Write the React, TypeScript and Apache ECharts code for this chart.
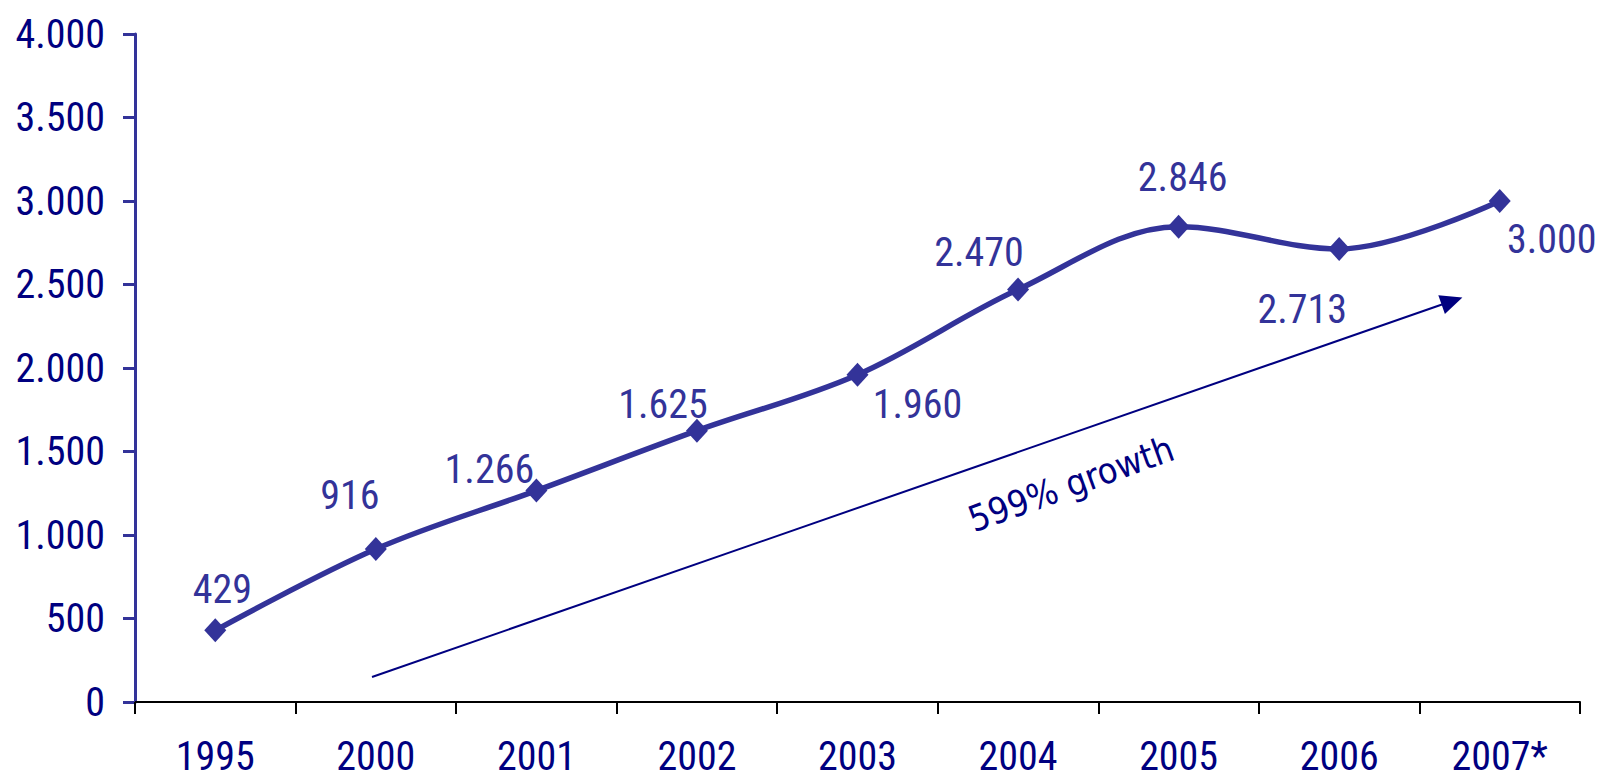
import React, { useEffect, useRef } from "react";
import * as echarts from "echarts";

const categories = ["1995", "2000", "2001", "2002", "2003", "2004", "2005", "2006", "2007*"];
const values = [429, 916, 1266, 1625, 1960, 2470, 2846, 2713, 3000];
const yTicks = { min: 0, max: 4000, interval: 500 };
const annotationText = "599% growth";

// label offsets (px) from each point's centre
const labelOffsets: [number, number][] = [
  [7, -41], [-26, -54], [-47, -21], [-34, -26], [60, 30], [-39, -37], [4, -49], [-37, 61], [52, 38],
];

const NUM_FONT = '"Roboto Condensed", "Liberation Sans Narrow", "DejaVu Sans Condensed", sans-serif';

function fmt(v: number): string {
  const s = String(Math.round(v));
  return s.replace(/\B(?=(\d{3})+(?!\d))/g, ".");
}

export default function App() {
  const ref = useRef<HTMLDivElement>(null);
  useEffect(() => {
    if (!ref.current) return;
    const chart = echarts.init(ref.current, undefined, { renderer: "svg" });
    chart.setOption({
      animation: false,
      backgroundColor: "#ffffff",
      grid: { left: 135, right: 17, top: 34, bottom: 78, containLabel: false },
      xAxis: {
        type: "category",
        data: categories,
        boundaryGap: true,
        axisLine: { show: true, lineStyle: { color: "#000000", width: 2 } },
        axisTick: { show: true, alignWithLabel: false, length: 12, lineStyle: { color: "#000000", width: 2 } },
        axisLabel: {
          color: "#000080",
          fontFamily: NUM_FONT,
          fontSize: 40,
          margin: 39,
          lineHeight: 30,
        },
        splitLine: { show: false },
      },
      yAxis: {
        type: "value",
        min: yTicks.min,
        max: yTicks.max,
        interval: yTicks.interval,
        axisLine: { show: true, lineStyle: { color: "#333399", width: 3 } },
        axisTick: { show: true, length: 12, lineStyle: { color: "#333399", width: 3 } },
        axisLabel: {
          color: "#000080",
          fontFamily: NUM_FONT,
          fontSize: 40,
          margin: 30,
          formatter: (v: number) => fmt(v),
        },
        splitLine: { show: false },
      },
      series: [
        {
          type: "line",
          data: values.map((v, i) => ({
            value: v,
            label: { offset: labelOffsets[i] },
          })),
          smooth: 0.35,
          symbol: "diamond",
          symbolSize: [22, 24],
          lineStyle: { color: "#333399", width: 5.5 },
          itemStyle: { color: "#333399" },
          label: {
            show: true,
            position: "inside",
            align: "center",
            verticalAlign: "middle",
            color: "#333399",
            fontFamily: NUM_FONT,
            fontSize: 40,
            formatter: (p: any) => fmt(p.value),
          },
          markLine: {
            silent: true,
            symbol: ["none", "triangle"],
            symbolSize: [20, 22],
            label: { show: false },
            lineStyle: { color: "#000080", width: 2, type: "solid" },
            itemStyle: { color: "#000080" },
            data: [[{ x: 372, y: 677 }, { x: 1452, y: 301 }]],
          },
        },
      ],
      graphic: [
        {
          type: "text",
          x: 1071,
          y: 484,
          rotation: (20 * Math.PI) / 180,
          style: {
            text: annotationText,
            fill: "#000080",
            font: '36px "DejaVu Sans Condensed", "DejaVu Sans", sans-serif',
            align: "center",
            verticalAlign: "middle",
          },
        },
      ],
    });
    return () => chart.dispose();
  }, []);
  return <div ref={ref} style={{ position: "fixed", left: 0, top: 0, width: 1597, height: 780 }} />;
}
